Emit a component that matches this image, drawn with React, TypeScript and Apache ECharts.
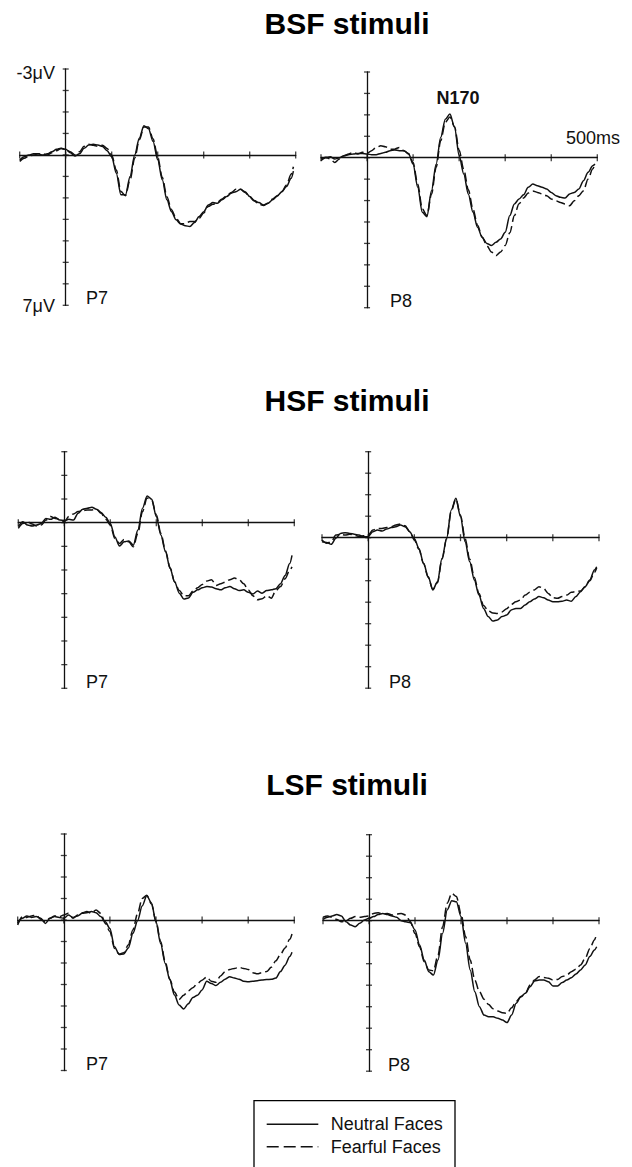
import React, { useEffect, useRef } from "react";
import * as echarts from "echarts";

// ---- data (time in ms, amplitude in axis-tick units; negative is drawn upward) ----
const timesMs = [
  -100, -90, -80, -70, -60, -50, -40, -30, -20, -10,
  0, 10, 20, 30, 40, 50, 60, 70, 80, 90,
  100, 110, 120, 130, 140, 150, 160, 170, 180, 190,
  200, 210, 220, 230, 240, 250, 260, 270, 280, 290,
  300, 310, 320, 330, 340, 350, 360, 370, 380, 390,
  400, 410, 420, 430, 440, 450, 460, 470, 480, 490, 495,
];
const xTicksMs = [-100, 0, 100, 200, 300, 400, 500];
const yTicksFromMinus4 = [-4, -3, -2, -1, 0, 1, 2, 3, 4, 5, 6, 7];
const yTicksFromMinus3 = [-3, -2, -1, 0, 1, 2, 3, 4, 5, 6, 7];

const bsfP7Neutral = [
  0.23, 0.08, 0, -0.05, -0.05, 0, -0.05, -0.15, -0.26, -0.31,
  -0.26, -0.1, 0.05, -0.05, -0.31, -0.46, -0.5, -0.46, -0.39, -0.2,
  0.08, 0.85, 1.85, 1.86, 1.0, 0, -0.78, -1.36, -1.22, -0.62,
  0.23, 1.16, 2.09, 2.64, 3.02, 3.22, 3.3, 3.33, 3.15, 2.87,
  2.64, 2.33, 2.22, 2.25, 2.09, 1.94, 1.78, 1.71, 1.6, 1.71,
  1.94, 2.12, 2.22, 2.33, 2.25, 2.09, 1.91, 1.71, 1.47, 1.09, 0.75,
];
const bsfP7Fearful = [
  0.3, 0.15, 0.05, 0, -0.05, -0.05, 0, -0.1, -0.2, -0.3,
  -0.25, -0.15, 0.0, -0.15, -0.4, -0.5, -0.45, -0.4, -0.45, -0.3,
  0.0, 0.7, 1.7, 1.9, 1.15, 0.15, -0.7, -1.3, -1.3, -0.75,
  0.1, 1.05, 1.95, 2.55, 2.95, 3.2, 3.2, 3.1, 3.1, 2.95,
  2.7, 2.4, 2.3, 2.2, 2.05, 1.9, 1.75, 1.6, 1.6, 1.75,
  1.95, 2.15, 2.3, 2.35, 2.25, 2.05, 1.9, 1.7, 1.4, 0.9, 0.55,
];
const bsfP8Neutral = [
  0.14, 0.0, -0.05, 0.06, 0.0, -0.09, -0.14, -0.17, -0.2, -0.2,
  -0.17, -0.14, -0.14, -0.2, -0.25, -0.33, -0.36, -0.33, -0.33, -0.2,
  0.3, 1.38, 2.55, 2.75, 1.54, 0.3, -0.95, -1.8, -2.04, -1.42,
  -0.1, 0.76, 1.7, 2.55, 3.25, 3.72, 4.0, 4.1, 3.95, 3.79,
  3.48, 2.7, 2.16, 1.93, 1.73, 1.38, 1.23, 1.31, 1.38, 1.46,
  1.62, 1.77, 1.85, 1.88, 1.69, 1.62, 1.46, 1.07, 0.68, 0.37, 0.3,
];
const bsfP8Fearful = [
  0.06, -0.02, 0.06, 0.22, 0.06, -0.09, -0.17, -0.25, -0.17, -0.25,
  -0.2, -0.33, -0.48, -0.56, -0.51, -0.4, -0.4, -0.48, -0.33, -0.17,
  0.22, 1.23, 2.39, 2.7, 1.7, 0.45, -0.8, -1.65, -1.9, -1.45,
  -0.35, 0.55, 1.5, 2.4, 3.15, 3.7, 4.1, 4.4, 4.57, 4.4,
  4.1, 3.5, 2.7, 2.15, 1.88, 1.65, 1.55, 1.62, 1.69, 1.77,
  1.93, 2.01, 2.09, 2.16, 2.24, 2.01, 1.77, 1.54, 0.99, 0.53, 0.3,
];
const hsfP7Neutral = [
  0.17, -0.04, 0.1, 0.14, 0.1, 0.03, -0.18, -0.14, -0.23, -0.11,
  -0.09, -0.14, -0.11, -0.4, -0.57, -0.61, -0.65, -0.57, -0.43, -0.23,
  0.03, 0.6, 0.99, 0.81, 0.77, 0.95, 0.31, -0.61, -1.13, -0.99,
  -0.26, 0.52, 1.23, 1.94, 2.51, 2.98, 3.23, 3.18, 2.94, 2.84,
  2.75, 2.7, 2.72, 2.79, 2.84, 2.75, 2.7, 2.79, 2.87, 2.84,
  2.94, 3.01, 2.89, 2.98, 2.87, 2.84, 2.79, 2.58, 2.23, 1.73, 1.38,
];
const hsfP7Fearful = [
  0.24, 0.03, -0.04, 0.06, 0.14, 0.1, -0.11, -0.26, -0.18, -0.14,
  -0.04, -0.26, -0.37, -0.47, -0.51, -0.54, -0.54, -0.57, -0.4, -0.14,
  0.1, 0.67, 0.88, 0.71, 0.81, 1.02, 0.45, -0.47, -1.04, -0.96,
  -0.33, 0.45, 1.19, 1.9, 2.51, 2.87, 3.09, 3.09, 2.89, 2.75,
  2.61, 2.47, 2.41, 2.65, 2.58, 2.51, 2.41, 2.34, 2.41, 2.58,
  2.84, 3.09, 3.26, 3.22, 3.09, 3.19, 2.87, 2.7, 2.37, 2.01, 1.87,
];
const hsfP8Neutral = [
  0.19, 0.22, 0.31, 0.03, -0.2, -0.23, -0.2, -0.16, -0.12, -0.05,
  -0.05, -0.28, -0.36, -0.31, -0.4, -0.47, -0.51, -0.59, -0.51, -0.28,
  0.05, 0.5, 1.19, 1.81, 2.43, 2.05, 0.96, 0.03, -1.29, -1.83,
  -0.98, 0.19, 1.12, 1.97, 2.67, 3.29, 3.67, 3.88, 3.83, 3.67,
  3.6, 3.36, 3.29, 3.29, 3.13, 2.98, 2.85, 2.74, 2.79, 2.9,
  2.98, 2.98, 2.95, 2.9, 2.95, 2.74, 2.51, 2.28, 1.97, 1.5, 1.35,
];
const hsfP8Fearful = [
  0.11, 0.26, 0.19, -0.12, -0.16, -0.12, -0.16, -0.12, -0.05, -0.09,
  -0.12, -0.36, -0.43, -0.43, -0.47, -0.51, -0.59, -0.64, -0.56, -0.28,
  0.1, 0.55, 1.2, 1.85, 2.4, 2.1, 1.0, 0.05, -1.25, -1.8,
  -1.05, 0.05, 1.0, 1.85, 2.6, 3.15, 3.4, 3.5, 3.52, 3.45,
  3.3, 3.1, 2.98, 2.9, 2.67, 2.54, 2.43, 2.28, 2.36, 2.59,
  2.79, 2.82, 2.74, 2.67, 2.54, 2.51, 2.48, 2.28, 2.0, 1.62, 1.4,
];
const lsfP7Neutral = [
  0.16, -0.08, -0.19, -0.12, -0.16, -0.08, 0.16, -0.08, -0.16, -0.12,
  -0.08, -0.23, -0.12, -0.19, -0.31, -0.34, -0.39, -0.34, -0.16, 0.08,
  0.39, 1.24, 1.6, 1.58, 1.3, 0.62, 0.03, -0.65, -1.13, -0.8,
  0.08, 1.09, 2.02, 2.79, 3.49, 3.95, 4.14, 3.9, 3.6, 3.5,
  3.25, 2.85, 2.95, 3.05, 2.9, 2.75, 2.64, 2.7, 2.75, 2.85,
  2.87, 2.85, 2.82, 2.79, 2.77, 2.76, 2.7, 2.4, 2.1, 1.7, 1.5,
];
const lsfP7Fearful = [
  0.23, -0.16, -0.12, -0.19, -0.23, -0.03, 0.08, -0.08, -0.19, -0.16,
  -0.23, -0.31, -0.08, -0.23, -0.34, -0.39, -0.31, -0.47, -0.31, 0.16,
  0.54, 1.32, 1.58, 1.52, 1.15, 0.45, -0.3, -1.0, -1.15, -0.75,
  0.05, 1.0, 1.95, 2.75, 3.35, 3.7, 3.5, 3.3, 3.15, 2.95,
  2.8, 2.65, 2.85, 2.9, 2.6, 2.4, 2.3, 2.25, 2.2, 2.25,
  2.3, 2.45, 2.5, 2.45, 2.4, 2.2, 1.9, 1.6, 1.3, 0.9, 0.65,
];
const lsfP8Neutral = [
  -0.06, -0.16, -0.22, -0.29, -0.22, 0.05, 0.2, 0.28, 0.12, -0.03,
  -0.11, -0.19, -0.29, -0.34, -0.29, -0.22, -0.16, 0, 0.05, 0.09,
  0.43, 1.13, 1.83, 2.37, 2.53, 1.83, 0.59, -0.5, -0.93, -0.88,
  -0.19, 1.05, 2.29, 3.3, 4.0, 4.39, 4.47, 4.47, 4.54, 4.62,
  4.74, 4.39, 3.84, 3.53, 3.38, 3.07, 2.8, 2.76, 2.76, 2.84,
  3.04, 3.04, 2.88, 2.76, 2.65, 2.48, 2.29, 2.06, 1.67, 1.36, 1.21,
];
const lsfP8Fearful = [
  -0.16, -0.22, -0.16, -0.06, 0.05, 0.0, -0.11, -0.19, -0.16, -0.19,
  -0.22, -0.34, -0.37, -0.31, -0.34, -0.26, -0.31, -0.34, -0.26, 0.05,
  0.59, 1.21, 1.91, 2.29, 2.33, 1.6, 0.28, -0.81, -1.27, -1.12,
  -0.34, 0.74, 1.83, 2.76, 3.3, 3.65, 3.9, 4.1, 4.2, 4.28,
  4.31, 4.05, 3.75, 3.55, 3.38, 2.99, 2.76, 2.6, 2.64, 2.68,
  2.76, 2.73, 2.6, 2.53, 2.37, 2.26, 2.06, 1.75, 1.3, 0.9, 0.6,
];

const sectionTitles = ["BSF stimuli", "HSF stimuli", "LSF stimuli"];
const seriesNames = ["Neutral Faces", "Fearful Faces"];

// ---- layout ----
const panels = [
  { neutral: bsfP7Neutral, fearful: bsfP7Fearful, yTicks: yTicksFromMinus4, site: "P7", left: 19.7, top: 69, width: 276, height: 236.3, labelX: 86, labelY: 298 },
  { neutral: bsfP8Neutral, fearful: bsfP8Fearful, yTicks: yTicksFromMinus4, site: "P8", left: 321, top: 72, width: 276.3, height: 235.7, labelX: 390, labelY: 301 },
  { neutral: hsfP7Neutral, fearful: hsfP7Fearful, yTicks: yTicksFromMinus3, site: "P7", left: 18.3, top: 451.7, width: 276, height: 236.6, labelX: 86, labelY: 681.5 },
  { neutral: hsfP8Neutral, fearful: hsfP8Fearful, yTicks: yTicksFromMinus4, site: "P8", left: 322, top: 451.7, width: 277, height: 236.5, labelX: 389, labelY: 682 },
  { neutral: lsfP7Neutral, fearful: lsfP7Fearful, yTicks: yTicksFromMinus4, site: "P7", left: 17.7, top: 834, width: 276.6, height: 236.5, labelX: 86, labelY: 1064 },
  { neutral: lsfP8Neutral, fearful: lsfP8Fearful, yTicks: yTicksFromMinus4, site: "P8", left: 323, top: 834.7, width: 276, height: 236.5, labelX: 388, labelY: 1065 },
];
const titleY = [23, 400, 784];

const FONT = '"Liberation Sans", Arial, Helvetica, sans-serif';
const INK = "#111";
const DASH = [9, 4];

function buildOption() {
  const grid = panels.map((p) => ({
    left: p.left, top: p.top, width: p.width, height: p.height,
    containLabel: false, outerBoundsMode: "none",
  }));
  const axisLineStyle = { color: INK, width: 1.3 };
  const xAxis = panels.map((_, i) => ({
    type: "value", gridIndex: i, min: -100, max: 500, interval: 100,
    axisLine: { show: true, onZero: true, lineStyle: axisLineStyle },
    axisTick: { show: false }, axisLabel: { show: false }, splitLine: { show: false },
  }));
  const yAxis = panels.map((p, i) => ({
    type: "value", gridIndex: i, min: p.yTicks[0], max: 7, interval: 1, inverse: true,
    axisLine: { show: true, onZero: true, lineStyle: axisLineStyle },
    axisTick: { show: false }, axisLabel: { show: false }, splitLine: { show: false },
  }));

  const series: any[] = [];
  panels.forEach((p, i) => {
    [p.neutral, p.fearful].forEach((vals, k) => {
      series.push({
        type: "line", name: seriesNames[k], xAxisIndex: i, yAxisIndex: i,
        data: timesMs.map((t, j) => [t, vals[j]]),
        showSymbol: false, symbol: "none", smooth: 0.3, smoothMonotone: "x",
        lineStyle: { color: INK, width: 1.5, type: k === 0 ? "solid" : DASH },
        itemStyle: { color: INK },
        silent: true, z: 3,
      });
    });
    const tickData = [
      ...p.yTicks.map((v) => ({ value: [0, v], symbolSize: [6, 1.3] })),
      ...xTicksMs.map((t) => ({ value: [t, 0], symbolSize: [1.3, 7] })),
    ];
    series.push({
      type: "scatter", name: "ticks", xAxisIndex: i, yAxisIndex: i,
      data: tickData, symbol: "rect",
      itemStyle: { color: INK }, silent: true, z: 2,
    });
  });

  const graphic: any[] = [];
  sectionTitles.forEach((t, i) => {
    graphic.push({
      type: "text", x: 347, y: titleY[i],
      style: { text: t, fontSize: 30, fontWeight: "bold", fontFamily: FONT, fill: "#000", align: "center", verticalAlign: "middle" },
    });
  });
  panels.forEach((p) => {
    graphic.push({
      type: "text", x: p.labelX, y: p.labelY,
      style: { text: p.site, fontSize: 18, fontFamily: FONT, fill: INK, align: "left", verticalAlign: "middle" },
    });
  });
  graphic.push(
    { type: "text", x: 55, y: 72.5, style: { text: "-3μV", fontSize: 18, fontFamily: FONT, fill: INK, align: "right", verticalAlign: "middle" } },
    { type: "text", x: 55, y: 306, style: { text: "7μV", fontSize: 18, fontFamily: FONT, fill: INK, align: "right", verticalAlign: "middle" } },
    { type: "text", x: 458, y: 98, style: { text: "N170", fontSize: 18, fontWeight: "bold", fontFamily: FONT, fill: INK, align: "center", verticalAlign: "middle" } },
    { type: "text", x: 566, y: 137.5, style: { text: "500ms", fontSize: 18, fontFamily: FONT, fill: INK, align: "left", verticalAlign: "middle" } },
  );

  // legend box (drawn by hand; its lower edge runs past the page, as in the source)
  graphic.push(
    { type: "rect", shape: { x: 254, y: 1100.7, width: 201, height: 110 }, style: { fill: "none", stroke: "#000", lineWidth: 1.3 } },
    { type: "line", shape: { x1: 266.7, y1: 1124.3, x2: 318.3, y2: 1124.3 }, style: { stroke: INK, lineWidth: 1.5 } },
    { type: "line", shape: { x1: 266.7, y1: 1146.7, x2: 318.3, y2: 1146.7 }, style: { stroke: INK, lineWidth: 1.5, lineDash: [12, 5] } },
    { type: "text", x: 330.7, y: 1124.3, style: { text: seriesNames[0], fontSize: 18, fontFamily: FONT, fill: INK, align: "left", verticalAlign: "middle" } },
    { type: "text", x: 330.7, y: 1146.7, style: { text: seriesNames[1], fontSize: 18, fontFamily: FONT, fill: INK, align: "left", verticalAlign: "middle" } },
  );

  return {
    animation: false,
    backgroundColor: "#fff",
    grid, xAxis, yAxis, series, graphic,
  };
}

export default function App() {
  const ref = useRef<HTMLDivElement>(null);
  useEffect(() => {
    if (!ref.current) return;
    const chart = echarts.init(ref.current, null, { renderer: "svg" });
    chart.setOption(buildOption() as any);
    return () => chart.dispose();
  }, []);
  return (
    <div
      ref={ref}
      style={{ position: "absolute", left: 0, top: 0, width: 632, height: 1167, background: "#fff" }}
    />
  );
}
